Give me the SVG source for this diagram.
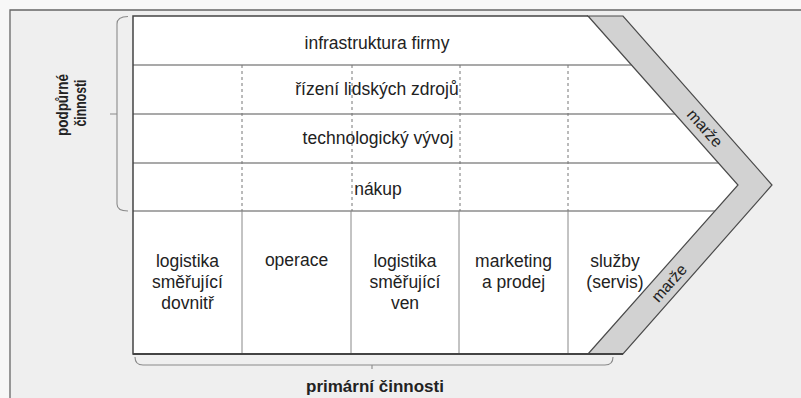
<svg xmlns="http://www.w3.org/2000/svg" width="801" height="398" viewBox="0 0 801 398">
<style>
  text { font-family: "Liberation Sans", Arial, sans-serif; fill: #222; }
  .lbl { font-size: 17.5px; text-anchor: middle; }
  .bold { font-weight: bold; text-anchor: middle; }
  .marze { font-size: 16px; text-anchor: middle; }
  .hline { stroke: #555; stroke-width: 1.2; fill: none; }
  .dash { stroke: #777; stroke-width: 1; stroke-dasharray: 3 3; fill: none; }
  .vline { stroke: #888; stroke-width: 1; fill: none; }
  .brace { stroke: #8a8a8a; stroke-width: 1.1; fill: none; }
</style>
<rect x="0" y="0" width="801" height="398" fill="#f7f7f7"/>
<rect x="10" y="10" width="791" height="388" fill="#efefef"/>
<path d="M10,398 L10,10 L801,10" fill="none" stroke="#666" stroke-width="1.3"/>

<g id="chevron">
  <polygon points="133,16 588,16 738,185 588,354 133,354" fill="#ffffff"/>
</g>

<g id="margin-band">
  <polygon points="588,16 623,16 772,185 623,354 588,354 738,185" fill="#d2d2d2" stroke="#4a4a4a" stroke-width="1.2" stroke-linejoin="miter"/>
  <text class="marze" transform="translate(705,128) rotate(48.4)" dy="0.35em">marže</text>
  <text class="marze" transform="translate(669,283) rotate(-48.4)" dy="0.35em">marže</text>
</g>

<g id="dividers">
  <line class="hline" x1="133" y1="65" x2="631.5" y2="65"/>
  <line class="hline" x1="133" y1="114" x2="675" y2="114"/>
  <line class="hline" x1="133" y1="163" x2="718.5" y2="163"/>
  <line class="hline" x1="133" y1="211" x2="715" y2="211"/>
  <line class="dash" x1="242" y1="65" x2="242" y2="211"/>
  <line class="dash" x1="352" y1="65" x2="352" y2="211"/>
  <line class="dash" x1="460" y1="65" x2="460" y2="211"/>
  <line class="dash" x1="568" y1="65" x2="568" y2="211"/>
  <line class="vline" x1="242" y1="211" x2="242" y2="354"/>
  <line class="vline" x1="351" y1="211" x2="351" y2="354"/>
  <line class="vline" x1="459" y1="211" x2="459" y2="354"/>
  <line class="vline" x1="568" y1="211" x2="568" y2="354"/>
  <path d="M588,16 L133,16 L133,354 L588,354" fill="none" stroke="#444" stroke-width="1.5"/>
  <line x1="133" y1="354" x2="623" y2="354" stroke="#444" stroke-width="2"/>
</g>

<g id="support-activities">
  <g id="infrastruktura"><text class="lbl" x="377" y="49">infrastruktura firmy</text></g>
  <g id="lidske-zdroje"><text class="lbl" x="377" y="95">řízení lidských zdrojů</text></g>
  <g id="technologie"><text class="lbl" x="378" y="144">technologický vývoj</text></g>
  <g id="nakup"><text class="lbl" x="378" y="195">nákup</text></g>
</g>

<g id="primary-activities">
  <g id="logistika-dovnitr">
    <text class="lbl" x="187.5" y="267">logistika</text>
    <text class="lbl" x="187.5" y="288">směřující</text>
    <text class="lbl" x="187.5" y="309">dovnitř</text>
  </g>
  <g id="operace"><text class="lbl" x="296.5" y="266">operace</text></g>
  <g id="logistika-ven">
    <text class="lbl" x="405" y="267">logistika</text>
    <text class="lbl" x="405" y="288">směřující</text>
    <text class="lbl" x="405" y="309">ven</text>
  </g>
  <g id="marketing">
    <text class="lbl" x="513.5" y="267">marketing</text>
    <text class="lbl" x="513.5" y="288">a prodej</text>
  </g>
  <g id="sluzby">
    <text class="lbl" x="615" y="267">služby</text>
    <text class="lbl" x="615" y="288">(servis)</text>
  </g>
</g>

<g id="support-brace">
  <path class="brace" d="M128,16.5 Q117,16.5 117,24 L117,204 Q117,211 128,211 M117,114 L110,114"/>
  <text class="bold" font-size="16" transform="translate(68,105) rotate(-90)" textLength="62" lengthAdjust="spacingAndGlyphs">podpůrné</text>
  <text class="bold" font-size="16" transform="translate(85.5,103) rotate(-90)" textLength="47" lengthAdjust="spacingAndGlyphs">činnosti</text>
</g>

<g id="primary-brace">
  <path class="brace" d="M135,357 Q135,365 143,365 L605,365 Q613,365 613,357 M372,365 L372,369"/>
  <text class="bold" font-size="17" x="375" y="392">primární činnosti</text>
</g>
</svg>
